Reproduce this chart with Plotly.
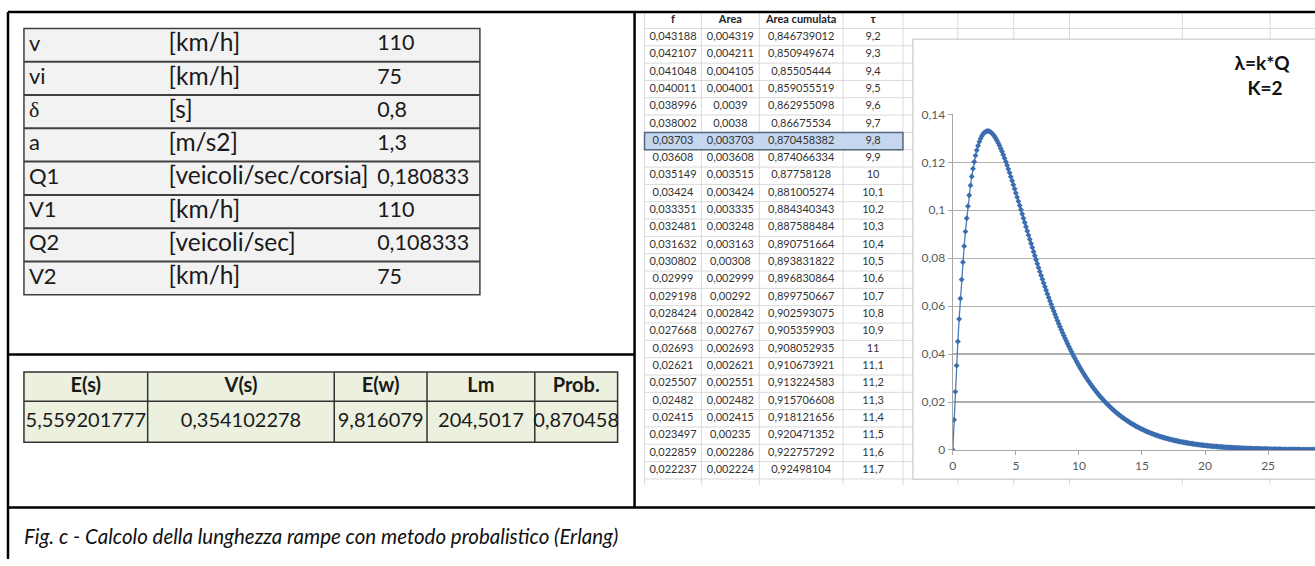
import plotly.graph_objects as go

W, H = 1315, 566

# ---------------- data ----------------
param_names = ["v", "vi", "δ", "a", "Q1", "V1", "Q2", "V2"]
param_units = ["[km/h]", "[km/h]", "[s]", "[m/s2]", "[veicoli/sec/corsia]", "[km/h]", "[veicoli/sec]", "[km/h]"]
param_values = ["110", "75", "0,8", "1,3", "0,180833", "110", "0,108333", "75"]

result_headers = ["E(s)", "V(s)", "E(w)", "Lm", "Prob."]
result_values = ["5,559201777", "0,354102278", "9,816079", "204,5017", "0,870458"]

sheet_headers = ["f", "Area", "Area cumulata", "τ"]
sheet_f = ["0,043188", "0,042107", "0,041048", "0,040011", "0,038996", "0,038002", "0,03703", "0,03608",
           "0,035149", "0,03424", "0,033351", "0,032481", "0,031632", "0,030802", "0,02999", "0,029198",
           "0,028424", "0,027668", "0,02693", "0,02621", "0,025507", "0,02482", "0,02415", "0,023497",
           "0,022859", "0,022237"]
sheet_area = ["0,004319", "0,004211", "0,004105", "0,004001", "0,0039", "0,0038", "0,003703", "0,003608",
              "0,003515", "0,003424", "0,003335", "0,003248", "0,003163", "0,00308", "0,002999", "0,00292",
              "0,002842", "0,002767", "0,002693", "0,002621", "0,002551", "0,002482", "0,002415", "0,00235",
              "0,002286", "0,002224"]
sheet_cum = ["0,846739012", "0,850949674", "0,85505444", "0,859055519", "0,862955098", "0,86675534",
             "0,870458382", "0,874066334", "0,87758128", "0,881005274", "0,884340343", "0,887588484",
             "0,890751664", "0,893831822", "0,896830864", "0,899750667", "0,902593075", "0,905359903",
             "0,908052935", "0,910673921", "0,913224583", "0,915706608", "0,918121656", "0,920471352",
             "0,922757292", "0,92498104"]
sheet_tau = ["9,2", "9,3", "9,4", "9,5", "9,6", "9,7", "9,8", "9,9", "10", "10,1", "10,2", "10,3", "10,4",
             "10,5", "10,6", "10,7", "10,8", "10,9", "11", "11,1", "11,2", "11,3", "11,4", "11,5", "11,6", "11,7"]
selected_row = 6  # row 9,8

tau = [
    0.0, 0.1, 0.2, 0.3, 0.4, 0.5, 0.6, 0.7, 0.8, 0.9,
    1.0, 1.1, 1.2, 1.3, 1.4, 1.5, 1.6, 1.7, 1.8, 1.9,
    2.0, 2.1, 2.2, 2.3, 2.4, 2.5, 2.6, 2.7, 2.8, 2.9,
    3.0, 3.1, 3.2, 3.3, 3.4, 3.5, 3.6, 3.7, 3.8, 3.9,
    4.0, 4.1, 4.2, 4.3, 4.4, 4.5, 4.6, 4.7, 4.8, 4.9,
    5.0, 5.1, 5.2, 5.3, 5.4, 5.5, 5.6, 5.7, 5.8, 5.9,
    6.0, 6.1, 6.2, 6.3, 6.4, 6.5, 6.6, 6.7, 6.8, 6.9,
    7.0, 7.1, 7.2, 7.3, 7.4, 7.5, 7.6, 7.7, 7.8, 7.9,
    8.0, 8.1, 8.2, 8.3, 8.4, 8.5, 8.6, 8.7, 8.8, 8.9,
    9.0, 9.1, 9.2, 9.3, 9.4, 9.5, 9.6, 9.7, 9.8, 9.9,
    10.0, 10.1, 10.2, 10.3, 10.4, 10.5, 10.6, 10.7, 10.8, 10.9,
    11.0, 11.1, 11.2, 11.3, 11.4, 11.5, 11.6, 11.7, 11.8, 11.9,
    12.0, 12.1, 12.2, 12.3, 12.4, 12.5, 12.6, 12.7, 12.8, 12.9,
    13.0, 13.1, 13.2, 13.3, 13.4, 13.5, 13.6, 13.7, 13.8, 13.9,
    14.0, 14.1, 14.2, 14.3, 14.4, 14.5, 14.6, 14.7, 14.8, 14.9,
    15.0, 15.1, 15.2, 15.3, 15.4, 15.5, 15.6, 15.7, 15.8, 15.9,
    16.0, 16.1, 16.2, 16.3, 16.4, 16.5, 16.6, 16.7, 16.8, 16.9,
    17.0, 17.1, 17.2, 17.3, 17.4, 17.5, 17.6, 17.7, 17.8, 17.9,
    18.0, 18.1, 18.2, 18.3, 18.4, 18.5, 18.6, 18.7, 18.8, 18.9,
    19.0, 19.1, 19.2, 19.3, 19.4, 19.5, 19.6, 19.7, 19.8, 19.9,
    20.0, 20.1, 20.2, 20.3, 20.4, 20.5, 20.6, 20.7, 20.8, 20.9,
    21.0, 21.1, 21.2, 21.3, 21.4, 21.5, 21.6, 21.7, 21.8, 21.9,
    22.0, 22.1, 22.2, 22.3, 22.4, 22.5, 22.6, 22.7, 22.8, 22.9,
    23.0, 23.1, 23.2, 23.3, 23.4, 23.5, 23.6, 23.7, 23.8, 23.9,
    24.0, 24.1, 24.2, 24.3, 24.4, 24.5, 24.6, 24.7, 24.8, 24.9,
    25.0, 25.1, 25.2, 25.3, 25.4, 25.5, 25.6, 25.7, 25.8, 25.9,
    26.0, 26.1, 26.2, 26.3, 26.4, 26.5, 26.6, 26.7, 26.8, 26.9,
    27.0, 27.1, 27.2, 27.3, 27.4, 27.5, 27.6, 27.7, 27.8, 27.9,
    28.0, 28.1, 28.2, 28.3, 28.4, 28.5, 28.6, 28.7, 28.8, 28.9,
]
f_tau = [
    0.0, 0.012616, 0.024335, 0.035206, 0.045274, 0.054583, 0.063172, 0.071083, 0.078352, 0.085016,
    0.091106, 0.096657, 0.101699, 0.106259, 0.110369, 0.114053, 0.117334, 0.120239, 0.122791, 0.125009,
    0.126914, 0.128526, 0.129864, 0.130944, 0.131784, 0.132398, 0.132803, 0.133013, 0.133039, 0.132898,
    0.132597, 0.132150, 0.131568, 0.130858, 0.130036, 0.129105, 0.128077, 0.126958, 0.125761, 0.124484,
    0.123140, 0.121737, 0.120275, 0.118766, 0.117212, 0.115614, 0.113988, 0.112330, 0.110645, 0.108937,
    0.107210, 0.105468, 0.103719, 0.101956, 0.100192, 0.098423, 0.096650, 0.094882, 0.093119, 0.091362,
    0.089610, 0.087871, 0.086137, 0.084414, 0.082707, 0.081016, 0.079345, 0.077687, 0.076044, 0.074423,
    0.072814, 0.071234, 0.069667, 0.068124, 0.066607, 0.065108, 0.063635, 0.062178, 0.060754, 0.059345,
    0.057962, 0.056602, 0.055266, 0.053952, 0.052663, 0.051397, 0.050155, 0.048936, 0.047740, 0.046567,
    0.045419, 0.044292, 0.043188, 0.042107, 0.041048, 0.040011, 0.038996, 0.038002, 0.037030, 0.036080,
    0.035149, 0.034240, 0.033351, 0.032481, 0.031632, 0.030802, 0.029990, 0.029198, 0.028424, 0.027668,
    0.026930, 0.026210, 0.025507, 0.024820, 0.024150, 0.023497, 0.022859, 0.022237, 0.021631, 0.021039,
    0.020464, 0.019901, 0.019353, 0.018819, 0.018297, 0.017790, 0.017295, 0.016814, 0.016344, 0.015886,
    0.015440, 0.015006, 0.014583, 0.014172, 0.013771, 0.013381, 0.013002, 0.012633, 0.012272, 0.011922,
    0.011582, 0.011250, 0.010927, 0.010613, 0.010308, 0.010011, 0.009722, 0.009441, 0.009167, 0.008901,
    0.008643, 0.008392, 0.008147, 0.007909, 0.007678, 0.007454, 0.007235, 0.007023, 0.006817, 0.006616,
    0.006421, 0.006232, 0.006048, 0.005869, 0.005695, 0.005527, 0.005363, 0.005203, 0.005048, 0.004898,
    0.004752, 0.004610, 0.004472, 0.004339, 0.004209, 0.004083, 0.003960, 0.003841, 0.003726, 0.003614,
    0.003505, 0.003399, 0.003296, 0.003197, 0.003100, 0.003006, 0.002915, 0.002827, 0.002741, 0.002658,
    0.002577, 0.002498, 0.002422, 0.002348, 0.002277, 0.002207, 0.002140, 0.002074, 0.002011, 0.001949,
    0.001889, 0.001831, 0.001775, 0.001720, 0.001667, 0.001616, 0.001566, 0.001518, 0.001471, 0.001426,
    0.001382, 0.001339, 0.001297, 0.001257, 0.001218, 0.001181, 0.001144, 0.001108, 0.001074, 0.001041,
    0.001008, 0.000977, 0.000946, 0.000917, 0.000888, 0.000860, 0.000834, 0.000808, 0.000782, 0.000758,
    0.000734, 0.000711, 0.000689, 0.000667, 0.000646, 0.000626, 0.000606, 0.000587, 0.000569, 0.000551,
    0.000534, 0.000517, 0.000500, 0.000485, 0.000469, 0.000455, 0.000440, 0.000426, 0.000413, 0.000400,
    0.000387, 0.000375, 0.000363, 0.000351, 0.000340, 0.000330, 0.000319, 0.000309, 0.000299, 0.000290,
    0.000280, 0.000271, 0.000263, 0.000254, 0.000246, 0.000239, 0.000231, 0.000224, 0.000216, 0.000210,
    0.000203, 0.000196, 0.000190, 0.000184, 0.000178, 0.000172, 0.000167, 0.000162, 0.000156, 0.000151,
    0.000147, 0.000142, 0.000137, 0.000133, 0.000129, 0.000124, 0.000120, 0.000117, 0.000113, 0.000109,
]

y_tick_vals = [0, 0.02, 0.04, 0.06, 0.08, 0.10, 0.12, 0.14]
y_tick_text = ["0", "0,02", "0,04", "0,06", "0,08", "0,1", "0,12", "0,14"]
x_tick_vals = [0, 5, 10, 15, 20, 25]
x_tick_text = ["0", "5", "10", "15", "20", "25"]

chart_note = ["λ=k*Q", "K=2"]
caption = "Fig. c - Calcolo della lunghezza rampe con metodo probalistico (Erlang)"

# ---------------- layout constants (pixels) ----------------
FONT = "Lato"
BLACK = "#000000"

# outer frame
FR_TOP, FR_LEFT, FR_DIV_X, FR_DIV_Y, FR_CAP_Y = 4, 5, 633, 356, 513
# top-left table
T1_X0, T1_X1, T1_Y0, T1_ROW = 21, 478, 21, 34.2
T1_COLX = [26, 166, 375]
T1_SIZES = [22, 24.5, 21.5]
# bottom-left table
T2_XB = [21, 145, 332, 425, 533, 616]
T2_Y = [374, 404, 446]
# spreadsheet
S_HDR_TOP, S_HDR_BOT, S_ROW = 4, 21, 17.8
S_VLINES = [643, 700, 758, 842, 902, 957, 1013, 1069, 1182, 1270]
S_BOTTOM = 490
S_FONT = 11
# chart
C_FRAME = (912, 32, 1325, 484)
C_X0PX, C_X25PX = 952, 1268
C_YTOP, C_YBOT = 109, 454
NOTE_X, NOTE_Y = [1262, 1265], [59, 84]
CAP_X, CAP_Y = 21, 545


def px(x):
    return x / W


def py(y):
    return 1 - y / H


def pline(x0, y0, x1, y1, color, width, layer="above"):
    return dict(type="line", xref="paper", yref="paper", x0=px(x0), y0=py(y0), x1=px(x1), y1=py(y1),
                line=dict(color=color, width=width), layer=layer)


def prect(x0, y0, x1, y1, fill, color=None, width=0, layer="below"):
    return dict(type="rect", xref="paper", yref="paper", x0=px(x0), y0=py(y0), x1=px(x1), y1=py(y1),
                fillcolor=fill, line=dict(color=color or fill, width=width), layer=layer)


def ttrace(xs, ys, texts, size, color="#1a1a1a", pos="middle center", weight="normal", style="normal",
           family=FONT):
    return go.Scatter(x=xs, y=ys, text=texts, mode="text", textposition=pos,
                      textfont=dict(family=family, size=size, color=color, weight=weight, style=style),
                      xaxis="x2", yaxis="y2", hoverinfo="skip", showlegend=False, cliponaxis=False)


shapes = []
traces = []

# ---- spreadsheet grid (below) ----
n_sheet = len(sheet_f)
yy = S_HDR_BOT
while yy <= S_BOTTOM:
    shapes.append(pline(S_VLINES[0], yy, W, yy, "#d9d9d9", 1, "below"))
    yy += S_ROW
for vx in S_VLINES:
    shapes.append(pline(vx, S_HDR_TOP, vx, S_BOTTOM, "#d9d9d9", 1, "below"))
# selected row
sel_y0 = S_HDR_BOT + selected_row * S_ROW
shapes.append(prect(S_VLINES[0], sel_y0, S_VLINES[4], sel_y0 + S_ROW, "#c5d7ee", "#56677f", 1.5, "below"))

# chart frame
shapes.append(prect(*C_FRAME, "#ffffff", "#bfbfbf", 1, "below"))

# ---- top-left table ----
n1 = len(param_names)
shapes.append(prect(T1_X0, T1_Y0, T1_X1, T1_Y0 + n1 * T1_ROW, "#f2f2f2", "#404040", 1.5, "below"))
for i in range(1, n1):
    yy = T1_Y0 + i * T1_ROW
    shapes.append(pline(T1_X0, yy, T1_X1, yy, "#404040", 2, "below"))
rows1 = [T1_Y0 + (i + 0.5) * T1_ROW for i in range(n1)]
fam1 = [("Liberation Serif" if n == "δ" else FONT) for n in param_names]
traces.append(ttrace([T1_COLX[0]] * n1, rows1, param_names, T1_SIZES[0], pos="middle right", family=fam1))
traces.append(ttrace([T1_COLX[1]] * n1, rows1, param_units, T1_SIZES[1], pos="middle right"))
traces.append(ttrace([T1_COLX[2]] * n1, rows1, param_values, T1_SIZES[2], pos="middle right"))

# ---- bottom-left table ----
shapes.append(prect(T2_XB[0], T2_Y[0], T2_XB[-1], T2_Y[-1], "#ebf1de", "#333333", 1.5, "below"))
shapes.append(pline(T2_XB[0], T2_Y[1], T2_XB[-1], T2_Y[1], "#333333", 1.5, "below"))
for vx in T2_XB[1:-1]:
    shapes.append(pline(vx, T2_Y[0], vx, T2_Y[-1], "#333333", 1.5, "below"))
cx2 = [(T2_XB[i] + T2_XB[i + 1]) / 2 for i in range(len(result_headers))]
traces.append(ttrace(cx2, [(T2_Y[0] + T2_Y[1]) / 2] * len(cx2), result_headers, 20, weight="bold"))
traces.append(ttrace(cx2, [(T2_Y[1] + T2_Y[2]) / 2] * len(cx2), result_values, 20))

# ---- spreadsheet text ----
s_cx = [(S_VLINES[i] + S_VLINES[i + 1]) / 2 for i in range(4)]
traces.append(ttrace(s_cx, [(S_HDR_TOP + S_HDR_BOT) / 2] * 4, sheet_headers, S_FONT, color="#222222",
                     weight="bold"))
srow = [S_HDR_BOT + (i + 0.5) * S_ROW for i in range(n_sheet)]
for cx, col in zip(s_cx, [sheet_f, sheet_area, sheet_cum, sheet_tau]):
    traces.append(ttrace([cx] * n_sheet, srow, col, S_FONT, color="#333333"))

# ---- chart note ----
traces.append(ttrace(NOTE_X, NOTE_Y, chart_note, 19, color="#111111", weight="bold"))

# ---- caption ----
traces.append(ttrace([CAP_X], [CAP_Y], [caption], 20.5, color="#111111", pos="middle right", style="italic"))

# ---- borders (above) ----
BW = 2.5
shapes.append(pline(FR_LEFT, FR_TOP, W, FR_TOP, BLACK, BW))
shapes.append(pline(FR_LEFT, FR_TOP, FR_LEFT, H, BLACK, BW))
shapes.append(pline(FR_DIV_X, FR_TOP, FR_DIV_X, FR_CAP_Y, BLACK, BW))
shapes.append(pline(FR_LEFT, FR_DIV_Y, FR_DIV_X, FR_DIV_Y, BLACK, BW))
shapes.append(pline(FR_LEFT, FR_CAP_Y, W, FR_CAP_Y, BLACK, BW))

# ---- chart trace ----
chart = go.Scatter(x=tau, y=f_tau, mode="lines+markers",
                   line=dict(color="#4a7ebb", width=1.3),
                   marker=dict(symbol="diamond", size=4.5, color="#3b6db0"),
                   xaxis="x", yaxis="y", showlegend=False, hoverinfo="skip")

fig = go.Figure(data=[chart] + traces)

px_per_unit = (C_X25PX - C_X0PX) / 25
x_max = (W - C_X0PX) / px_per_unit
fig.update_layout(
    width=W, height=H, autosize=False,
    margin=dict(l=0, r=0, t=0, b=0, pad=0),
    paper_bgcolor="#ffffff", plot_bgcolor="rgba(0,0,0,0)",
    showlegend=False,
    shapes=shapes,
    xaxis=dict(domain=[px(C_X0PX), 1], range=[0, x_max], anchor="y",
               tickvals=x_tick_vals, ticktext=x_tick_text, showgrid=False, zeroline=False,
               showline=True, linecolor="#a6a6a6", linewidth=1.2, ticks="outside", ticklen=4,
               tickcolor="#a6a6a6", tickfont=dict(family=FONT, size=12, color="#595959")),
    yaxis=dict(domain=[py(C_YBOT), py(C_YTOP)], range=[0, 0.1401], anchor="x",
               tickvals=y_tick_vals, ticktext=y_tick_text, showgrid=True, gridcolor="#b0b0b0",
               gridwidth=1.2, zeroline=False, showline=True, linecolor="#a6a6a6", linewidth=1.2,
               ticks="outside", ticklen=4, tickcolor="#a6a6a6",
               tickfont=dict(family=FONT, size=12, color="#595959")),
    xaxis2=dict(domain=[0, 1], range=[0, W], anchor="y2", visible=False, fixedrange=True),
    yaxis2=dict(domain=[0, 1], range=[H, 0], anchor="x2", visible=False, fixedrange=True),
)

fig.write_html("out.html", config={"displayModeBar": False, "staticPlot": True},
               post_script="document.body.style.margin='0px';document.body.style.overflow='hidden';")
